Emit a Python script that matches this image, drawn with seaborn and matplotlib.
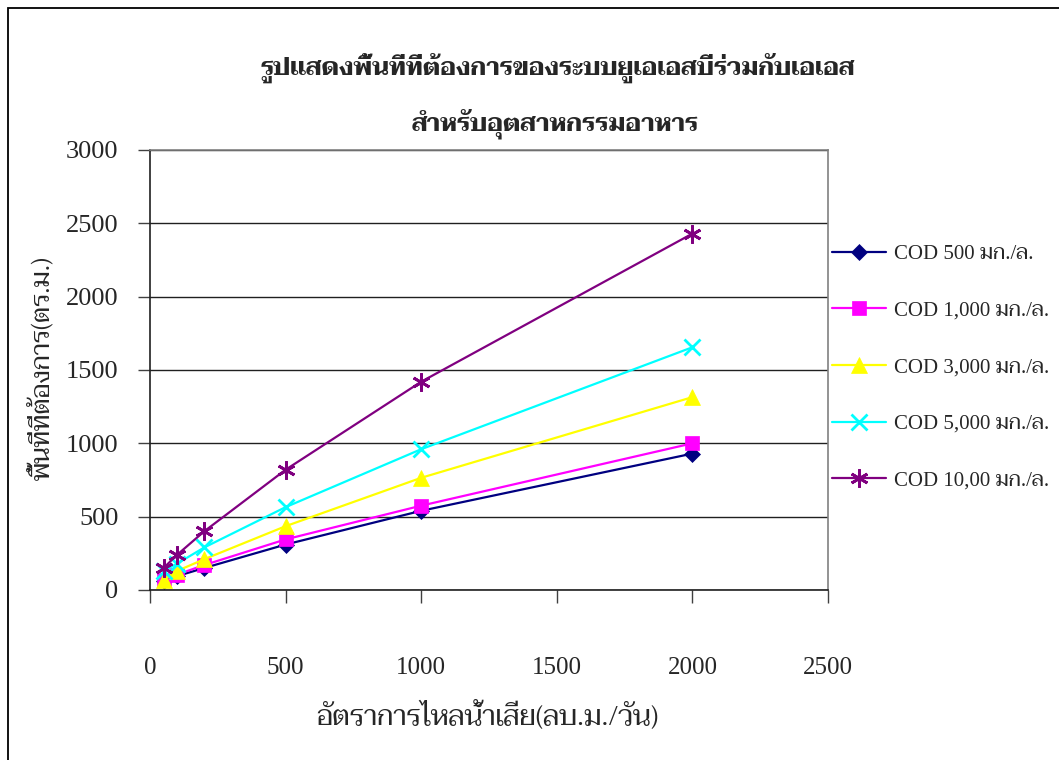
import matplotlib
matplotlib.use("Agg")
import matplotlib.pyplot as plt
from matplotlib.patches import Rectangle
import seaborn as sns
import pandas as pd

# ---- data ----
flow = [50, 100, 200, 500, 1000, 2000]
cod_500 = [60, 95, 150, 310, 540, 930]
cod_1000 = [65, 105, 170, 345, 575, 1000]
cod_3000 = [70, 130, 210, 435, 765, 1315]
cod_5000 = [130, 180, 290, 565, 960, 1655]
cod_10000 = [150, 240, 400, 820, 1420, 2430]
series_labels = ["COD 500 มก./ล.", "COD 1,000 มก./ล.", "COD 3,000 มก./ล.",
                 "COD 5,000 มก./ล.", "COD 10,00 มก./ล."]
title_line1 = "รูปแสดงพื้นที่ที่ต้องการของระบบยูเอเอสบีร่วมกับเอเอส"
title_line2 = "สำหรับอุตสาหกรรมอาหาร"
xlabel = "อัตราการไหลน้ำเสีย(ลบ.ม./วัน)"
ylabel = "พื้นที่ที่ต้องการ(ตร.ม.)"
x_ticks = [0, 500, 1000, 1500, 2000, 2500]
y_ticks = [0, 500, 1000, 1500, 2000, 2500, 3000]

series_values = [cod_500, cod_1000, cod_3000, cod_5000, cod_10000]
colors = ["#000080", "#FF00FF", "#FFFF00", "#00FFFF", "#800080"]
markers = ["D", "s", "^", "x", (6, 2, 0)]
msizes = [8, 10, 11, 11, 13]

sns.set_theme(style="white")
plt.rcParams["font.family"] = ["Liberation Serif", "Taviraj"]
THAI = ["Taviraj", "Liberation Serif"]
MIXED = ["Liberation Serif", "Taviraj"]

W, H = 1059, 760
fig = plt.figure(figsize=(W / 100, H / 100), dpi=100)
fig.patch.set_facecolor("white")

# outer chart-area border
fig.add_artist(Rectangle((7.5 / W, -0.1), 1.2, 1 - 7.5 / H + 0.1,
                         transform=fig.transFigure, fill=False,
                         edgecolor="black", linewidth=1.3, clip_on=False))

ax = fig.add_axes([150 / W, 1 - 590 / H, 678 / W, 440 / H])

rows = []
for lab, vals in zip(series_labels, series_values):
    for xv, yv in zip(flow, vals):
        rows.append({"flow": xv, "area": yv, "series": lab})
df = pd.DataFrame(rows)

for lab, c, m, ms in zip(series_labels, colors, markers, msizes):
    sub = df[df["series"] == lab]
    mew = 2.0 if m in ("x", (6, 2, 0)) else 0.5
    sns.lineplot(data=sub, x="flow", y="area", ax=ax, color=c, marker=m,
                 markersize=ms, markeredgecolor=c, markerfacecolor=c,
                 markeredgewidth=mew, linewidth=1.6, label=lab,
                 estimator=None, sort=False)

ax.set_xlim(0, 2500)
ax.set_ylim(0, 3000)
ax.set_xticks(x_ticks)
ax.set_yticks(y_ticks)
ax.set_xticklabels([str(t) for t in x_ticks], fontsize=18, family="Liberation Serif")
ax.set_yticklabels([str(t) for t in y_ticks], fontsize=19, family="Liberation Serif")
ax.tick_params(axis="x", direction="out", length=9.5, width=1.0, color="#404040",
               pad=39, bottom=True)
ax.tick_params(axis="y", direction="out", length=8.6, width=1.0, color="#404040",
               pad=14, left=True)

ax.grid(False)
ax.yaxis.grid(True, color="#202020", linewidth=1.0)
ax.set_axisbelow(True)
for side in ("left", "bottom"):
    ax.spines[side].set_color("#202020")
    ax.spines[side].set_linewidth(1.2)
for side in ("top", "right"):
    ax.spines[side].set_color("#808080")
    ax.spines[side].set_linewidth(1.2)

ax.set_xlabel("")
ax.set_ylabel("")
fig.text(487 / W, 1 - 715 / H, xlabel, family=THAI, fontsize=20,
         ha="center", va="center")
fig.text(43 / W, 1 - 368 / H, ylabel, family=THAI, fontsize=18.5,
         rotation=90, ha="center", va="center")
fig.text(558 / W, 1 - 68 / H, title_line1, family=THAI, fontsize=17.5,
         fontweight="bold", ha="center", va="center")
fig.text(555 / W, 1 - 124 / H, title_line2, family=THAI, fontsize=17.5,
         fontweight="bold", ha="center", va="center")

leg = ax.legend(loc="center left", bbox_to_anchor=(832 / W, 1 - 367.5 / H),
                bbox_transform=fig.transFigure, frameon=False,
                prop={"family": MIXED, "size": 15}, handlelength=2.6,
                handletextpad=0.38, labelspacing=1.78, borderpad=0,
                borderaxespad=0)

fig.savefig("out.png", dpi=100)
